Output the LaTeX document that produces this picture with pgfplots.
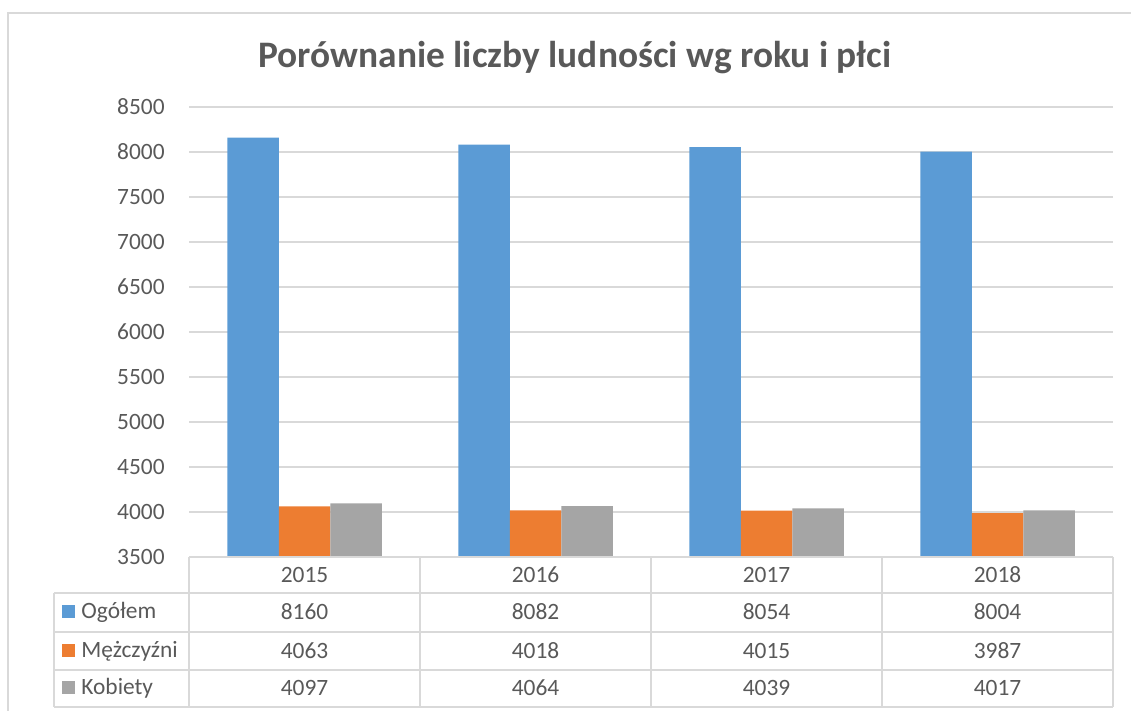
\documentclass[border=0pt]{standalone}
\usepackage{fontspec}
\setmainfont{Carlito}
\usepackage{pgfplots}
\pgfplotsset{compat=1.18}
\usepackage{pgfplotstable}
\definecolor{cblue}{HTML}{5B9BD5}
\definecolor{corange}{HTML}{ED7D31}
\definecolor{cgray}{HTML}{A5A5A5}
\definecolor{ctext}{HTML}{595959}
\definecolor{cgrid}{HTML}{D9D9D9}
\pgfplotstableread{
x year ogolem mez kob
0 2015 8160 4063 4097
1 2016 8082 4018 4064
2 2017 8054 4015 4039
3 2018 8004 3987 4017
}\data
\begin{document}
\begin{tikzpicture}
\useasboundingbox (0,0) rectangle (565.5pt,355.5pt);
\begin{scope}[x=0.5pt,y=0.5pt]
\draw[cgrid, line width=0.75pt] (8,-5) -- (8,698) -- (1140,698);
\node[font=\fontsize{18.7pt}{22pt}\selectfont\bfseries, text=ctext] at (575,653) {Porównanie liczby ludności wg roku i płci};
\end{scope}
\begin{axis}[at={(94.5pt,77pt)}, anchor=south west, width=462pt, height=225pt, scale only axis,
  ybar=0pt, bar width=25.75pt, xmin=-0.5, xmax=3.5, ymin=3500, ymax=8500,
  ytick={3500,4000,...,8500}, xtick=\empty, axis line style={draw=none},
  ymajorgrids, grid style={cgrid, line width=0.6pt}, major tick length=0pt,
  yticklabel style={font=\fontsize{11.7pt}{14pt}\selectfont, text=ctext, anchor=east, inner sep=0pt, xshift=-12pt},
  /pgf/number format/assume math mode=true, /pgf/number format/1000 sep={}]
\addplot[fill=cblue, draw=none] table[x=x,y=ogolem]{\data};
\addplot[fill=corange, draw=none] table[x=x,y=mez]{\data};
\addplot[fill=cgray, draw=none] table[x=x,y=kob]{\data};
\end{axis}
\begin{scope}[x=0.5pt,y=0.5pt, every node/.style={font=\fontsize{11.7pt}{14pt}\selectfont, text=ctext, inner sep=0pt}]
% table grid (image y -> 711-y)
\draw[cgrid, line width=0.75pt] (189,154) -- (1113,154);
\foreach \yy in {118,79,41,4} { \draw[cgrid, line width=0.75pt] (54,\yy) -- (1113,\yy); }
\draw[cgrid, line width=0.75pt] (54,118) -- (54,4);
\foreach \xx in {189,420,651,882,1113} { \draw[cgrid, line width=0.75pt] (\xx,154) -- (\xx,4); }
% years
\foreach \xx/\t in {304.5/2015,535.5/2016,766.5/2017,997.5/2018} { \node at (\xx,136) {\t}; }
% legend cells
\fill[cblue] (62,92.5) rectangle (75,105.5);
\node[anchor=west] at (81,99) {Ogółem};
\fill[corange] (62,53.5) rectangle (75,66.5);
\node[anchor=west] at (81,60) {Mężczyźni};
\fill[cgray] (62,16.5) rectangle (75,29.5);
\node[anchor=west] at (81,23) {Kobiety};
% values
\foreach \xx/\a/\b/\c in {304.5/8160/4063/4097,535.5/8082/4018/4064,766.5/8054/4015/4039,997.5/8004/3987/4017} {
  \node at (\xx,99) {\a};
  \node at (\xx,60) {\b};
  \node at (\xx,23) {\c};
}
\end{scope}
\end{tikzpicture}
\end{document}
